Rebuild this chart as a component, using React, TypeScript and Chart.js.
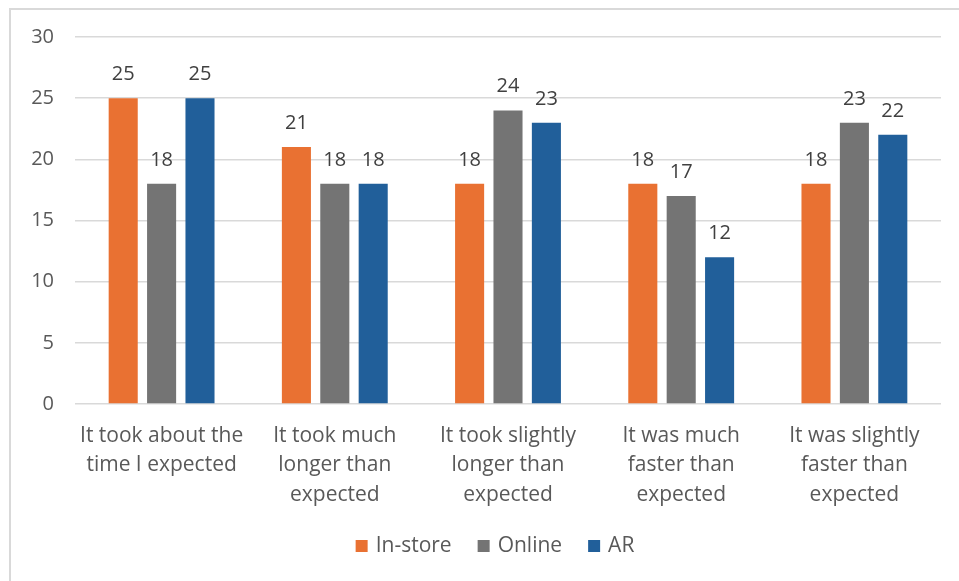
import React, { useEffect, useRef } from "react";
import { Chart, registerables } from "chart.js";

Chart.register(...registerables);

// Survey responses: how long did the purchase take versus expectation
const categories: string[][] = [
  ["It took about the", "time I expected"],
  ["It took much", "longer than", "expected"],
  ["It took slightly", "longer than", "expected"],
  ["It was much", "faster than", "expected"],
  ["It was slightly", "faster than", "expected"],
];

const inStore = [25, 21, 18, 18, 18];
const online = [18, 18, 24, 17, 23];
const ar = [25, 18, 23, 12, 22];

const seriesNames = ["In-store", "Online", "AR"];
const seriesColors = ["#E97132", "#747474", "#215F9A"];

const yTicks = [0, 5, 10, 15, 20, 25, 30];

const FONT = "'Open Sans', 'Liberation Sans', sans-serif";
const TEXT = "#595959";

// Value labels above each bar
const barLabels = {
  id: "barLabels",
  afterDatasetsDraw(chart: any) {
    const ctx = chart.ctx;
    ctx.save();
    ctx.font = `20px ${FONT}`;
    ctx.fillStyle = "#404040";
    ctx.textAlign = "center";
    ctx.textBaseline = "alphabetic";
    chart.data.datasets.forEach((ds: any, i: number) => {
      const meta = chart.getDatasetMeta(i);
      meta.data.forEach((bar: any, j: number) => {
        ctx.fillText(String(ds.data[j]), bar.x, bar.y - 18);
      });
    });
    ctx.restore();
  },
};

// Bottom legend: square swatch followed by series name
const bottomLegend = {
  id: "bottomLegend",
  afterDraw(chart: any) {
    const ctx = chart.ctx;
    ctx.save();
    ctx.font = `21px ${FONT}`;
    ctx.textBaseline = "middle";
    ctx.textAlign = "left";
    const box = 12;
    const boxGap = 8;
    const itemGap = 26;
    const cy = 546;
    const widths = seriesNames.map((n) => ctx.measureText(n).width);
    const total = widths.reduce((s, w) => s + box + boxGap + w, 0) + itemGap * (seriesNames.length - 1);
    let x = 495 - total / 2;
    seriesNames.forEach((name, i) => {
      ctx.fillStyle = seriesColors[i];
      ctx.fillRect(x, cy - box / 2, box, box);
      ctx.fillStyle = TEXT;
      ctx.fillText(name, x + box + boxGap, cy);
      x += box + boxGap + widths[i] + itemGap;
    });
    ctx.restore();
  },
};

// Outer chart frame (left and top edges fall inside the view)
const frame = {
  id: "frame",
  beforeDraw(chart: any) {
    const ctx = chart.ctx;
    ctx.save();
    ctx.strokeStyle = "#d9d9d9";
    ctx.lineWidth = 2;
    ctx.beginPath();
    ctx.moveTo(10, chart.height + 2);
    ctx.lineTo(10, 9);
    ctx.lineTo(chart.width + 2, 9);
    ctx.stroke();
    ctx.restore();
  },
};

export default function App() {
  const canvasRef = useRef<HTMLCanvasElement | null>(null);

  useEffect(() => {
    if (!canvasRef.current) return;
    const values = [inStore, online, ar];
    const chart = new Chart(canvasRef.current, {
      type: "bar",
      data: {
        labels: categories,
        datasets: seriesNames.map((name, i) => ({
          label: name,
          data: values[i],
          backgroundColor: seriesColors[i],
          borderWidth: 0,
          categoryPercentage: 0.665,
          barPercentage: 0.757,
        })),
      },
      options: {
        animation: false,
        responsive: false,
        maintainAspectRatio: false,
        layout: { padding: { left: 0, right: 18, top: 37, bottom: 65 } },
        scales: {
          x: {
            grid: { display: false, drawTicks: false },
            border: { display: false },
            ticks: {
              color: TEXT,
              font: { family: FONT, size: 21, lineHeight: 1.405 },
              padding: 17,
              maxRotation: 0,
              autoSkip: false,
            },
            afterFit(scale: any) {
              scale.height = 112;
            },
          },
          y: {
            min: 0,
            max: 30,
            afterBuildTicks(scale: any) {
              scale.ticks = yTicks.map((v) => ({ value: v }));
            },
            grid: { color: "#d9d9d9", lineWidth: 1.5, drawTicks: false },
            border: { display: false },
            ticks: {
              color: TEXT,
              font: { family: FONT, size: 20 },
              padding: 21,
            },
            afterFit(scale: any) {
              scale.width = 75;
            },
          },
        },
        plugins: {
          legend: { display: false },
          tooltip: { enabled: false },
        },
      },
      plugins: [frame, barLabels, bottomLegend],
    });
    return () => chart.destroy();
  }, []);

  return (
    <div style={{ position: "absolute", left: 0, top: 0, width: 959, height: 581, background: "#fff" }}>
      <canvas ref={canvasRef} width={959} height={581} style={{ display: "block" }} />
    </div>
  );
}
